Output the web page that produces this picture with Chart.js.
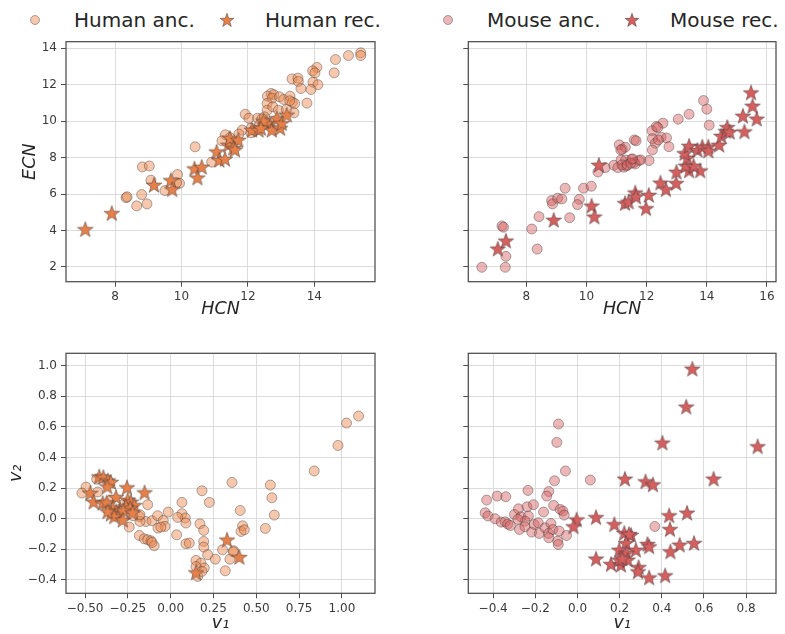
<!DOCTYPE html>
<html>
<head>
<meta charset="utf-8">
<script src="https://cdn.jsdelivr.net/npm/chart.js@4.4.1/dist/chart.umd.min.js"></script>
<style>
  body { margin: 0; background: #fff; }
  #wrap { position: relative; width: 785px; height: 634px; font-family: "DejaVu Sans", sans-serif; }
  #wrap canvas.plot { position: absolute; }
  .legtxt { position: absolute; font-size: 20px; color: #262626; line-height: 24px; white-space: nowrap; }
  .legmk { position: absolute; }
</style>
</head>
<body>
<div id="wrap">
  <svg class="legmk" style="left:29px;top:14px" width="12" height="12"><circle cx="6" cy="6" r="4.5" fill="rgba(238,133,74,0.45)" stroke="rgba(50,50,50,0.5)" stroke-width="0.8"/></svg>
  <div class="legtxt" style="left:74px;top:8px">Human anc.</div>
  <svg class="legmk" style="left:219px;top:12px" width="16" height="16"><polygon id="legStar1" fill="#e8804a" stroke="rgba(50,50,50,0.6)" stroke-width="0.8"/></svg>
  <div class="legtxt" style="left:265px;top:8px">Human rec.</div>
  <svg class="legmk" style="left:442px;top:14px" width="12" height="12"><circle cx="6" cy="6" r="4.5" fill="rgba(214,95,95,0.45)" stroke="rgba(50,50,50,0.5)" stroke-width="0.8"/></svg>
  <div class="legtxt" style="left:487px;top:8px">Mouse anc.</div>
  <svg class="legmk" style="left:624px;top:12px" width="16" height="16"><polygon id="legStar2" fill="#d65f5f" stroke="rgba(50,50,50,0.6)" stroke-width="0.8"/></svg>
  <div class="legtxt" style="left:670px;top:8px">Mouse rec.</div>

  <canvas class="plot" id="tl" width="385" height="300" style="left:0px;top:30px"></canvas>
  <canvas class="plot" id="tr" width="385" height="300" style="left:400px;top:30px"></canvas>
  <canvas class="plot" id="bl" width="385" height="304" style="left:0px;top:330px"></canvas>
  <canvas class="plot" id="br" width="385" height="304" style="left:400px;top:330px"></canvas>
</div>
<script>
// ---- data ----
const humanAncTop = [
  [15.40,13.75],[15.40,13.60],[15.03,13.60],[14.64,13.38],[14.60,12.65],[14.08,12.95],[13.95,12.76],[14.02,12.65],
  [13.96,12.14],[14.11,12.00],[13.90,11.74],[13.78,10.99],[13.33,12.32],[13.51,12.36],[13.52,12.18],[13.60,11.79],
  [12.70,11.52],[12.59,11.37],[12.78,11.45],[12.73,11.26],[12.95,11.34],[13.08,11.19],[13.27,11.37],[13.34,11.04],
  [13.41,10.97],[13.26,11.12],[12.58,10.97],[12.58,10.60],[12.75,10.79],[12.92,10.60],[13.39,10.46],[13.16,10.64],
  [11.92,10.38],[12.03,10.16],[12.29,10.16],[12.42,10.13],[12.57,9.91],[12.50,10.24],[12.65,9.75],[12.80,10.00],
  [12.35,9.80],[11.32,9.25],[11.46,9.10],[11.22,8.92],[11.83,9.51],[11.73,9.29],[12.10,9.62],[12.09,9.36],
  [12.19,9.51],[10.91,7.75],[11.55,8.74],[10.41,8.59],[8.82,7.49],[9.03,7.54],[9.08,6.76],[8.33,5.80],
  [8.36,5.85],[8.80,5.97],[8.65,5.35],[8.96,5.46],[9.50,6.19],[9.88,7.07],[9.94,6.59],[9.85,6.62]
];
const humanRecTop = [
  [7.10,4.07],[7.90,4.95],[9.17,6.50],[9.68,6.76],[9.72,6.26],[10.39,7.40],[10.61,7.49],[10.48,6.90],
  [11.06,8.33],[11.14,7.87],[11.31,7.93],[11.41,8.70],[11.46,9.07],[11.71,8.97],[11.56,8.52],[11.61,8.44],
  [12.12,9.52],[12.32,9.52],[12.57,9.89],[12.72,9.52],[12.87,10.16],[12.97,9.62],[13.02,9.89],[13.17,10.35],
  [12.47,10.02],[12.39,9.62]
];
const mouseAncTop = [
  [6.52,1.98],[7.30,1.98],[7.32,2.58],[7.19,4.25],[7.24,4.18],[8.36,2.98],[8.18,4.08],[8.42,4.76],
  [8.84,5.64],[8.87,5.46],[9.04,5.77],[9.18,5.73],[9.29,6.32],[9.44,4.70],[9.76,5.71],[9.70,5.42],
  [9.90,6.32],[10.16,6.43],[10.38,7.21],[10.62,7.45],[11.09,8.70],[11.19,8.46],[11.29,8.57],[10.91,7.58],
  [11.04,7.45],[11.15,7.87],[11.24,7.47],[11.33,7.54],[13.89,11.13],[14.00,10.66],[13.41,10.38],[13.05,10.11],
  [14.08,9.78],[12.54,9.89],[12.32,9.70],[12.18,9.47],[12.37,9.65],[12.48,9.12],[12.66,9.08],[12.19,9.04],
  [12.29,8.79],[12.39,8.97],[12.74,8.60],[12.19,8.42],[12.08,7.84],[11.59,8.97],[11.65,8.92],[11.14,8.42],
  [11.30,7.87],[11.50,7.91],[11.58,7.73],[11.74,7.84],[11.18,7.60],[11.36,7.60],[11.62,7.65],[11.47,7.69],
  [11.80,7.87],[11.53,7.93]
];
const mouseRecTop = [
  [7.05,3.00],[7.32,3.44],[8.91,4.58],[10.17,5.36],[10.26,4.76],[10.41,7.60],[11.28,5.50],[11.40,5.58],
  [11.62,6.08],[11.64,5.86],[11.98,5.22],[12.07,5.95],[12.46,6.62],[12.64,6.26],[12.98,6.60],[12.99,7.22],
  [13.41,7.29],[13.78,7.29],[13.30,7.55],[13.56,7.55],[13.35,7.99],[13.26,8.24],[13.41,8.64],[13.69,8.42],
  [13.85,8.60],[14.05,8.60],[14.05,8.38],[14.41,8.70],[14.48,9.19],[14.63,9.45],[14.68,9.67],[14.76,9.41],
  [15.25,9.43],[15.20,10.29],[15.66,10.13],[15.52,10.84],[15.47,11.57]
];
const humanAncPC = [
  [-0.432,0.259],[-0.494,0.207],[-0.518,0.168],[-0.426,0.175],[-0.134,0.092],[-0.183,0.015],[-0.144,-0.018],[-0.179,-0.018],
  [-0.242,-0.054],[-0.109,-0.013],[-0.076,0.020],[-0.043,-0.011],[-0.074,-0.061],[-0.033,-0.050],[-0.057,-0.054],[-0.014,0.044],
  [-0.183,-0.109],[-0.154,-0.131],[-0.134,-0.137],[-0.115,-0.144],[-0.096,-0.176],[-0.109,-0.155],[0.035,-0.105],[0.066,0.107],
  [0.066,0.033],[0.085,0.005],[0.041,0.009],[0.089,-0.028],[0.089,-0.163],[0.109,-0.159],[0.183,0.183],[0.226,0.107],
  [0.171,-0.033],[0.193,-0.076],[0.193,-0.148],[0.193,-0.185],[0.216,-0.235],[0.148,-0.272],[0.177,-0.290],[0.196,-0.322],
  [0.148,-0.312],[0.158,-0.377],[0.183,-0.344],[0.261,-0.264],[0.303,-0.203],[0.346,-0.264],[0.319,-0.340],[0.358,0.237],
  [0.368,-0.209],[0.406,0.054],[0.420,-0.046],[0.411,-0.083],[0.430,-0.072],[0.366,-0.216],[1.097,0.671],[1.027,0.625],
  [0.977,0.479],[0.838,0.312],[0.582,0.220],[0.591,0.137],[0.605,0.024],[0.553,-0.063],[-0.300,0.060],[-0.220,0.020],
  [-0.350,0.120],[-0.270,0.100],[-0.179,0.026]
];
const humanRecPC = [
  [-0.417,0.276],[-0.393,0.272],[-0.366,0.250],[-0.349,0.240],[-0.370,0.211],[-0.255,0.205],[-0.152,0.172],[-0.469,0.168],
  [-0.319,0.142],[-0.450,0.111],[-0.397,0.103],[-0.374,0.107],[-0.251,0.124],[-0.232,0.111],[-0.212,0.089],[-0.261,0.080],
  [-0.236,0.070],[-0.339,0.070],[-0.319,0.048],[-0.300,0.033],[-0.277,0.054],[-0.349,0.033],[-0.329,0.015],[-0.280,-0.007],
  [-0.222,0.041],[-0.368,0.048],[0.329,-0.137],[0.401,-0.250],[0.148,-0.351]
];
const mouseAncPC = [
  [-0.090,0.619],[-0.098,0.499],[-0.057,0.312],[-0.109,0.248],[0.061,0.253],[-0.235,0.185],[-0.136,0.178],[-0.146,0.148],
  [-0.381,0.148],[-0.340,0.144],[-0.431,0.122],[-0.438,0.039],[-0.425,0.018],[-0.391,0.000],[-0.362,-0.022],[-0.343,-0.020],
  [-0.331,-0.035],[-0.318,-0.044],[-0.299,0.028],[-0.280,0.065],[-0.268,0.013],[-0.239,0.078],[-0.233,0.018],[-0.209,0.092],
  [-0.249,-0.015],[-0.283,-0.004],[-0.275,-0.070],[-0.249,-0.052],[-0.217,-0.087],[-0.205,-0.037],[-0.186,-0.026],[-0.181,-0.096],
  [-0.154,-0.059],[-0.161,0.044],[-0.137,-0.096],[-0.113,0.087],[-0.126,-0.031],[-0.117,-0.070],[-0.082,0.061],[-0.069,0.050],
  [-0.063,0.024],[-0.087,-0.080],[-0.052,-0.109],[-0.136,-0.124],[-0.094,-0.146],[-0.091,-0.168],[0.367,-0.050]
];
const mouseRecPC = [
  [0.545,0.980],[0.516,0.732],[0.403,0.497],[0.855,0.473],[0.646,0.261],[0.225,0.261],[0.323,0.244],[0.358,0.224],
  [0.435,0.022],[0.520,0.039],[0.439,-0.068],[0.553,-0.159],[0.485,-0.170],[0.441,-0.214],[0.088,0.010],[-0.004,-0.005],
  [-0.019,-0.050],[0.175,-0.036],[0.222,-0.093],[0.254,-0.105],[0.244,-0.100],[0.230,-0.159],[0.332,-0.165],[0.340,-0.181],
  [0.198,-0.203],[0.277,-0.203],[0.233,-0.222],[0.088,-0.261],[0.159,-0.296],[0.206,-0.301],[0.198,-0.268],[0.238,-0.268],
  [0.290,-0.316],[0.287,-0.344],[0.340,-0.384],[0.416,-0.370],[0.213,-0.259]
];

const topYTicks = [2, 4, 6, 8, 10, 12, 14];
const tlXTicks = [8, 10, 12, 14];
const trXTicks = [8, 10, 12, 14, 16];
const botYTicks = [-0.4, -0.2, 0, 0.2, 0.4, 0.6, 0.8, 1.0];
const blXTicks = [-0.5, -0.25, 0, 0.25, 0.5, 0.75, 1.0];
const brXTicks = [-0.4, -0.2, 0, 0.2, 0.4, 0.6, 0.8];

// ---- styling ----
Chart.defaults.font.family = '"DejaVu Sans", sans-serif';
const ORANGE = '#e8804a', RED = '#d65f5f';
const ORANGE_A = 'rgba(238,133,74,0.45)', RED_A = 'rgba(214,95,95,0.45)';
const EDGE = 'rgba(50,50,50,0.5)';

function starPoints(cx, cy, R) {
  const r = R * 0.4, pts = [];
  for (let i = 0; i < 10; i++) {
    const a = -Math.PI / 2 + i * Math.PI / 5, rr = i % 2 ? r : R;
    pts.push([cx + rr * Math.cos(a), cy + rr * Math.sin(a)]);
  }
  return pts;
}
function starImage(fill) {
  const c = document.createElement('canvas');
  c.width = c.height = 18;
  const g = c.getContext('2d');
  g.beginPath();
  starPoints(9, 9.7, 8.2).forEach(p => g.lineTo(p[0], p[1]));
  g.closePath();
  g.fillStyle = fill; g.fill();
  g.lineWidth = 0.8; g.strokeStyle = 'rgba(50,50,50,0.6)'; g.stroke();
  return c;
}
['legStar1', 'legStar2'].forEach(id => {
  document.getElementById(id).setAttribute('points', starPoints(8, 8.6, 7.3).map(p => p.join(',')).join(' '));
});

const framePlugin = {
  id: 'frame',
  afterDraw(chart) {
    const { ctx, chartArea: a } = chart;
    ctx.save();
    ctx.strokeStyle = '#4d4d4d';
    ctx.lineWidth = 1.25;
    ctx.strokeRect(a.left, a.top, a.right - a.left, a.bottom - a.top);
    ctx.restore();
  }
};

const minus = s => s.replace('-', '\u2212');

function makeChart(id, anc, rec, ancColor, recColor, cfg) {
  const pts = arr => arr.map(p => ({ x: p[0], y: p[1] }));
  new Chart(document.getElementById(id), {
    type: 'scatter',
    data: {
      datasets: [
        { data: pts(rec), pointStyle: starImage(recColor), pointRadius: 8, order: 1 },
        { data: pts(anc), pointStyle: 'circle', pointRadius: 5, backgroundColor: ancColor,
          borderColor: EDGE, borderWidth: 0.8, order: 2 }
      ]
    },
    options: {
      responsive: false,
      animation: false,
      devicePixelRatio: 1,
      layout: { padding: cfg.pad },
      plugins: { legend: { display: false }, tooltip: { enabled: false } },
      scales: {
        x: {
          type: 'linear', min: cfg.xr[0], max: cfg.xr[1],
          afterBuildTicks: ax => { ax.ticks = cfg.xt.map(v => ({ value: v })); },
          afterFit: ax => { ax.height = cfg.xH; },
          grid: { color: '#dcdcdc', lineWidth: 1, tickColor: '#4d4d4d', tickLength: 5, tickWidth: 1 },
          border: { display: false },
          ticks: { color: '#3a3a3a', font: { size: 12 }, padding: 3, maxRotation: 0, callback: cfg.xf },
          title: { display: true, text: cfg.xTitle, color: '#262626', font: { size: 17.5, style: 'italic' },
                   padding: { top: 0, bottom: cfg.xTitlePad } }
        },
        y: {
          type: 'linear', min: cfg.yr[0], max: cfg.yr[1],
          afterBuildTicks: ax => { ax.ticks = cfg.yt.map(v => ({ value: v })); },
          afterFit: ax => { ax.width = cfg.yW; },
          grid: { color: '#dcdcdc', lineWidth: 1, tickColor: '#4d4d4d', tickLength: 5, tickWidth: 1 },
          border: { display: false },
          ticks: { color: '#3a3a3a', font: { size: 12 }, padding: 4, callback: cfg.yf },
          title: { display: !!cfg.yTitle, text: cfg.yTitle || '', color: '#262626',
                   font: { size: 17.5, style: 'italic' }, padding: { top: cfg.yTitlePad || 0, bottom: 0 } }
        }
      }
    },
    plugins: [framePlugin]
  });
}

const intFmt = v => minus(String(v));
const fmt1 = v => minus(v.toFixed(1));
const fmt2 = v => minus(v.toFixed(2));
const noLabel = () => '';

makeChart('tl', humanAncTop, humanRecTop, ORANGE_A, ORANGE, {
  xr: [6.52, 15.83], yr: [1.19, 14.36], xt: tlXTicks, yt: topYTicks, xf: intFmt, yf: intFmt,
  xTitle: 'HCN', yTitle: 'ECN', xTitlePad: 10.5, yTitlePad: 19.8,
  pad: { left: 0, top: 11.7, right: 10, bottom: 0 }, yW: 66, xH: 48.3
});
makeChart('tr', mouseAncTop, mouseRecTop, RED_A, RED, {
  xr: [6.07, 16.30], yr: [1.19, 14.36], xt: trXTicks, yt: topYTicks, xf: intFmt, yf: noLabel,
  xTitle: 'HCN', xTitlePad: 10.5,
  pad: { left: 0, top: 11.7, right: 7.7, bottom: 0 }, yW: 68.3, xH: 48.3
});
makeChart('bl', humanAncPC, humanRecPC, ORANGE_A, ORANGE, {
  xr: [-0.611, 1.193], yr: [-0.487, 1.081], xt: blXTicks, yt: botYTicks, xf: fmt2, yf: fmt1,
  xTitle: 'v\u2081', yTitle: 'v\u2082', xTitlePad: 0, yTitlePad: 6,
  pad: { left: 0, top: 23.3, right: 10, bottom: 0 }, yW: 66, xH: 40.7
});
makeChart('br', mouseAncPC, mouseRecPC, RED_A, RED, {
  xr: [-0.518, 0.942], yr: [-0.487, 1.081], xt: brXTicks, yt: botYTicks, xf: fmt1, yf: noLabel,
  xTitle: 'v\u2081', xTitlePad: 0,
  pad: { left: 0, top: 23.3, right: 7.7, bottom: 0 }, yW: 68.3, xH: 40.7
});
</script>
</body>
</html>
